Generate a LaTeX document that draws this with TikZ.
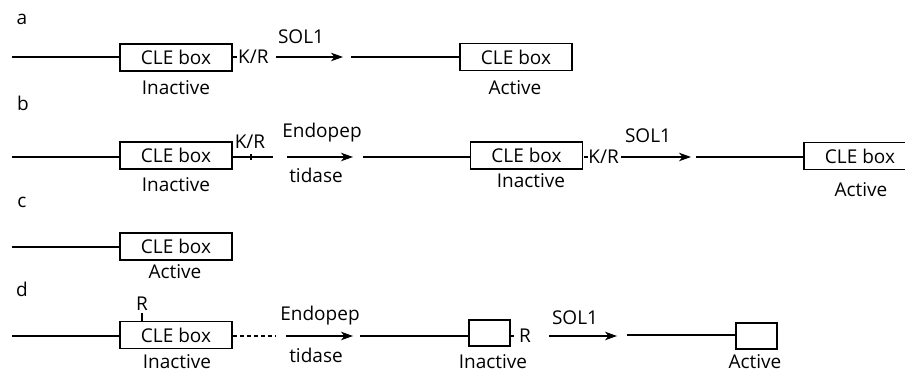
\documentclass[tikz,border=0pt]{standalone}
\usepackage{fontspec}
\setmainfont{Open Sans}
\usetikzlibrary{arrows.meta,positioning}

\tikzset{
  txt/.style={font=\fontsize{19}{21}\selectfont, inner sep=0pt},
  clebox/.style={draw, line width=1.7pt, minimum width=112pt, minimum height=27pt, inner sep=0pt, txt},
  stubbox/.style={draw, line width=1.7pt, minimum width=41pt, minimum height=26pt, inner sep=0pt},
  strand/.style={line width=1.4pt},
  convert/.style={line width=1.4pt, -{Stealth[length=12pt,width=8.5pt,inset=3.5pt]}},
  notch/.style={line width=1.4pt},
}

\begin{document}
\begin{tikzpicture}[x=1pt,y=-1pt]
  \clip (0,0) rectangle (905,371);

  % ---- a ----
  \node[txt,anchor=base] (la) at (22,25) {a};
  \coordinate (a0) at (12,57);
  \node[clebox] (a1) at (176,57.5) {CLE box};
  \draw[strand] (a0) -- (a1.west |- a0);
  \draw[notch] (a1.east |- a0) -- ++(4,0) coordinate (a1k);
  \node[txt,anchor=base west] (akr) at (238,64) {K/R};
  \coordinate (a2s) at (276,57);
  \coordinate (a2e) at (343,57);
  \draw[convert] (a2s) -- (a2e);
  \node[txt,anchor=base] (asol) at (301,44) {SOL1};
  \coordinate (a3) at (351,57);
  \node[clebox] (a4) at (516,57) {CLE box};
  \draw[strand] (a3) -- (a4.west |- a3);
  \node[txt,anchor=base] (ain) at (176,95) {Inactive};
  \node[txt,anchor=base] (aac) at (515,95) {Active};

  % ---- b ----
  \node[txt,anchor=base] (lb) at (23,111) {b};
  \coordinate (b0) at (12,157);
  \node[clebox] (b1) at (176,155.5) {CLE box};
  \draw[strand] (b0) -- (b1.west |- b0);
  \coordinate (b1e) at (273,157);
  \draw[strand] (b1.east |- b0) -- (b1e);
  \coordinate (b1k) at (251,157);
  \draw[notch] ([yshift=-3]b1k) -- ([yshift=3]b1k);
  \node[txt,anchor=base] (bkr) at (250,149) {K/R};
  \coordinate (b2s) at (287,157);
  \coordinate (b2e) at (353,157);
  \draw[convert] (b2s) -- (b2e);
  \node[txt,anchor=base] (bendo) at (322,138) {Endopep};
  \node[txt,anchor=base] (btid) at (316,183) {tidase};
  \node[txt,anchor=base] (bin1) at (176,192) {Inactive};
  \coordinate (b3) at (363,157);
  \node[clebox] (b4) at (526.5,155.5) {CLE box};
  \draw[strand] (b3) -- (b4.west |- b3);
  \draw[notch] (b4.east |- b3) ++(1,0) -- ++(4,0);
  \node[txt,anchor=base east] (bkr2) at (619,164) {K/R};
  \coordinate (b5s) at (621,157);
  \coordinate (b5e) at (691,157);
  \draw[convert] (b5s) -- (b5e);
  \node[txt,anchor=base] (bsol) at (648,143) {SOL1};
  \node[txt,anchor=base] (bin2) at (531,188) {Inactive};
  \coordinate (b6) at (696,157);
  \node[clebox] (b7) at (860,156) {CLE box};
  \draw[strand] (b6) -- (b7.west |- b6);
  \node[txt,anchor=base] (bac) at (861,197) {Active};

  % ---- c ----
  \node[txt,anchor=base] (lc) at (22,208) {c};
  \coordinate (c0) at (12,247);
  \node[clebox] (c1) at (176,246.5) {CLE box};
  \draw[strand] (c0) -- (c1.west |- c0);
  \node[txt,anchor=base] (cac) at (175,279) {Active};

  % ---- d ----
  \node[txt,anchor=base] (ld) at (22,297) {d};
  \coordinate (d0) at (12,336);
  \node[clebox] (d1) at (176,335) {CLE box};
  \draw[strand] (d0) -- (d1.west |- d0);
  \draw[notch] (d1.north -| 142,0) -- ++(0,-8) coordinate (d1r);
  \node[txt,anchor=base] (dr1) at (142,311) {R};
  \coordinate (d1e) at (275,336);
  \draw[strand, dash pattern=on 4.5pt off 2.5pt] (d1.east |- d0) -- (d1e);
  \coordinate (d2s) at (286,336);
  \coordinate (d2e) at (353,336);
  \draw[convert] (d2s) -- (d2e);
  \node[txt,anchor=base] (dendo) at (320,320) {Endopep};
  \node[txt,anchor=base] (dtid) at (316,362) {tidase};
  \node[txt,anchor=base] (din1) at (177,368) {Inactive};
  \coordinate (d3) at (360,336);
  \node[stubbox] (d4) at (489.5,333) {};
  \draw[strand] (d3) -- (d4.west |- d3);
  \draw[notch] (d4.east |- d3) -- ++(3,0);
  \node[txt,anchor=base] (dr2) at (525,342) {R};
  \coordinate (d5s) at (549,336);
  \coordinate (d5e) at (617,336);
  \draw[convert] (d5s) -- (d5e);
  \node[txt,anchor=base] (dsol) at (575,325) {SOL1};
  \node[txt,anchor=base] (din2) at (493,368) {Inactive};
  \coordinate (d6) at (627,335);
  \node[stubbox] (d7) at (756.5,336) {};
  \draw[strand] (d6) -- (d7.west |- d6);
  \node[txt,anchor=base] (dac) at (755,368) {Active};
\end{tikzpicture}
\end{document}
